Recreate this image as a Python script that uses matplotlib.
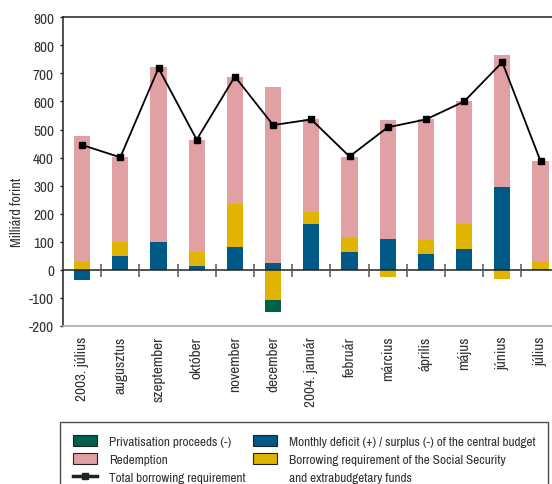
import numpy as np
import matplotlib
matplotlib.use("Agg")
import matplotlib.pyplot as plt
from matplotlib.patches import Patch
from matplotlib.lines import Line2D

plt.rcParams['font.family'] = ['Archivo Narrow', 'Roboto Condensed', 'DejaVu Sans']

months = ["2003. július", "augusztus", "szeptember", "október", "november",
          "december", "2004. január", "február", "március", "április",
          "május", "június", "július"]
deficit = [-35, 49, 99, 14, 82, 26, 162, 64, 109, 56, 74, 296, 4]
social = [29, 51, 0, 50, 154, -106, 43, 49, -25, 50, 91, -32, 24]
redemption = [447, 302, 625, 398, 452, 627, 331, 289, 424, 430, 435, 470, 360]
privatisation = [0, 0, 0, 0, 0, -44, 0, 0, 0, 0, 0, 0, 0]
total = [445, 401, 719, 464, 689, 516, 536, 404, 508, 536, 600, 740, 388]

c_pink = '#E0A0A4'
c_blue = '#005A87'
c_yellow = '#E0B400'
c_green = '#00614A'

fig = plt.figure(figsize=(5.52, 4.85), dpi=100)
ax = fig.add_axes([63/552, 1-327/485, 496.6/552, 308.7/485])

x = np.arange(len(months))
w = 0.42
pos = np.zeros(len(months))
neg = np.zeros(len(months))
for vals, col in [(deficit, c_blue), (social, c_yellow), (redemption, c_pink), (privatisation, c_green)]:
    v = np.array(vals, dtype=float)
    bottoms = np.where(v >= 0, pos, neg)
    ax.bar(x, v, w, bottom=bottoms, color=col, linewidth=0, zorder=2)
    pos = pos + np.where(v > 0, v, 0)
    neg = neg + np.where(v < 0, v, 0)

ax.plot(x, total, color='black', lw=1.3, marker='s', markersize=3.8, zorder=4)

ax.axhline(0, color='#222222', lw=1.1, zorder=3)
ax.vlines(x[1:] - 0.5, -24, 22, color='#555555', lw=1.1, zorder=3)

ax.set_xlim(-0.5, len(months) - 0.5)
ax.set_ylim(-200, 900)
ax.set_yticks(np.arange(-200, 901, 100))
ax.set_yticklabels([str(v) for v in range(-200, 901, 100)])
ax.set_xticks(x)
ax.set_xticklabels(months, rotation=90, va='top', ha='center')
ax.tick_params(axis='x', length=0, pad=7, labelsize=11, colors='#333333')
ax.tick_params(axis='y', length=2.5, width=1, pad=4, labelsize=11, colors='#222222', labelcolor='#333333')

for s in ['left', 'top']:
    ax.spines[s].set_color('#222222')
    ax.spines[s].set_linewidth(1.1)
ax.spines['right'].set_visible(False)
ax.spines['bottom'].set_color('#aaaaaa')
ax.spines['bottom'].set_linewidth(1.2)

ax.set_ylabel('Milliárd forint', fontsize=10.3, color='#333333')
ax.yaxis.set_label_coords(-0.079, 0.3725)

handles = [
    Patch(facecolor=c_green, edgecolor='#222222', lw=0.8),
    Patch(facecolor=c_pink, edgecolor='#222222', lw=0.8),
    Line2D([0], [0], color='#222222', lw=2.5, marker='s', markersize=4),
    Patch(facecolor=c_blue, edgecolor='#222222', lw=0.8),
    Patch(facecolor=c_yellow, edgecolor='#222222', lw=0.8),
    Patch(facecolor='none', edgecolor='none', lw=0),
]
labels = ["Privatisation proceeds (-)", "Redemption", "Total borrowing requirement",
          "Monthly deficit (+) / surplus (-) of the central budget",
          "Borrowing requirement of the Social Security",
          "and extrabudgetary funds"]
leg = fig.legend(handles, labels, ncol=2, loc='upper left',
                 bbox_to_anchor=(60.3/552, 1-423.3/485), fontsize=9.5,
                 frameon=True, fancybox=False, edgecolor='#222222',
                 handlelength=1.85, handleheight=0.95, handletextpad=0.9,
                 labelspacing=0.45, columnspacing=0.55, borderpad=0.95,
                 borderaxespad=0)
leg.get_frame().set_linewidth(1.0)
for t in leg.get_texts():
    t.set_color('#333333')

fig.savefig('out.png', dpi=100)
